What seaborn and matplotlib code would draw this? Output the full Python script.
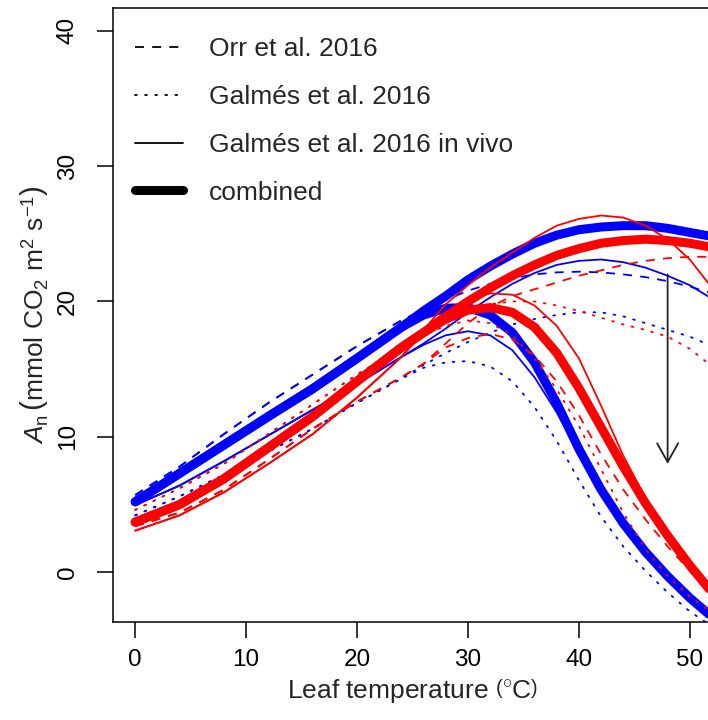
import matplotlib
matplotlib.use("Agg")
import matplotlib.pyplot as plt
from matplotlib.lines import Line2D
import seaborn as sns
import pandas as pd

sns.set_style("ticks")
plt.rcParams['font.family'] = ['Liberation Sans', 'DejaVu Sans']
plt.rcParams['mathtext.fontset'] = 'custom'
plt.rcParams['mathtext.rm'] = 'Liberation Sans'
plt.rcParams['mathtext.it'] = 'Liberation Sans:italic'
plt.rcParams['mathtext.sf'] = 'Liberation Sans'

# ---------------- data ----------------
temp = [0, 4, 8, 12, 16, 20, 24, 26, 28, 30, 32, 34, 36, 38, 40, 42, 44, 46, 48, 50, 52]

# blue
blue_orr_hi = [5.7, 7.8, 10.2, 12.5, 14.6, 16.7, 18.6, 19.4, 20.1, 20.8, 21.3, 21.7, 22.0, 22.15, 22.2, 22.15, 22.0, 21.8, 21.5, 21.1, 20.6]
blue_orr_lo = [5.7, 7.8, 10.2, 12.5, 14.6, 16.7, 18.6, 19.3, 19.7, 19.7, 19.15, 17.85, 15.7, 12.7, 9.3, 6.3, 3.8, 1.7, -0.1, -1.7, -3.1]
blue_gal_hi = [4.2, 5.6, 7.2, 8.9, 10.6, 12.5, 14.3, 15.3, 16.2, 17.0, 17.7, 18.3, 18.7, 19.0, 19.2, 19.2, 18.9, 18.4, 17.9, 17.4, 16.7]
blue_gal_lo = [4.2, 5.6, 7.2, 8.9, 10.6, 12.5, 14.3, 15.1, 15.5, 15.6, 15.2, 14.1, 12.2, 9.7, 6.8, 4.1, 1.9, 0.1, -1.5, -2.9, -4.0]
blue_viv_hi = [4.95, 6.4, 8.2, 10.1, 12.0, 13.9, 15.9, 16.9, 18.0, 19.2, 20.3, 21.3, 22.1, 22.7, 23.0, 23.1, 22.9, 22.5, 21.9, 21.2, 20.2]
blue_viv_lo = [4.95, 6.4, 8.2, 10.1, 12.0, 13.9, 15.9, 16.8, 17.5, 17.8, 17.5, 16.4, 14.4, 11.8, 8.9, 6.1, 3.7, 1.7, -0.1, -1.7, -3.1]
blue_com_hi = [5.2, 7.3, 9.4, 11.5, 13.55, 15.8, 18.1, 19.3, 20.4, 21.6, 22.6, 23.5, 24.3, 24.9, 25.3, 25.5, 25.6, 25.6, 25.4, 25.1, 24.8]
blue_com_lo = [5.2, 7.3, 9.4, 11.5, 13.55, 15.8, 18.1, 19.0, 19.5, 19.55, 19.0, 17.7, 15.5, 12.5, 9.1, 6.1, 3.6, 1.5, -0.3, -1.9, -3.3]

# red
red_orr_hi = [3.4, 4.4, 6.1, 8.3, 10.6, 12.6, 14.4, 15.4, 16.9, 18.4, 19.6, 20.4, 20.9, 21.4, 21.9, 22.3, 22.7, 23.0, 23.2, 23.3, 23.3]
red_orr_lo = [3.4, 4.4, 6.1, 8.3, 10.6, 12.6, 14.4, 15.4, 16.6, 17.3, 17.6, 17.2, 16.0, 14.1, 11.6, 8.7, 6.1, 3.9, 1.9, 0.1, -1.6]
red_gal_hi = [4.6, 6.2, 8.0, 10.2, 12.4, 14.6, 16.6, 17.5, 18.4, 19.2, 19.8, 20.0, 20.0, 19.7, 19.3, 18.8, 18.3, 17.9, 17.4, 16.5, 15.2]
red_gal_lo = [4.6, 6.2, 8.0, 10.2, 12.4, 14.6, 16.6, 17.5, 18.2, 18.6, 18.4, 17.5, 15.8, 13.5, 10.8, 7.6, 4.4, 1.7, -0.3, -1.8, -3.0]
red_viv_hi = [3.07, 4.2, 5.9, 8.0, 10.2, 12.9, 15.9, 17.9, 19.8, 21.2, 22.5, 23.6, 24.7, 25.6, 26.1, 26.35, 26.2, 25.6, 24.6, 23.1, 21.0]
red_viv_lo = [3.07, 4.2, 5.9, 8.0, 10.2, 12.9, 15.9, 17.7, 19.2, 20.1, 20.6, 20.5, 19.7, 18.2, 15.8, 12.3, 8.6, 5.5, 3.0, 0.8, -1.4]
red_com_hi = [3.7, 5.0, 6.9, 9.2, 11.5, 14.1, 16.6, 17.7, 18.9, 20.0, 21.0, 21.9, 22.7, 23.4, 23.9, 24.3, 24.5, 24.6, 24.5, 24.3, 24.0]
red_com_lo = [3.7, 5.0, 6.9, 9.2, 11.5, 14.1, 16.6, 17.7, 18.7, 19.35, 19.55, 19.2, 18.1, 16.2, 13.6, 10.7, 7.8, 5.1, 2.7, 0.5, -1.5]

legend_labels = ["Orr et al. 2016", "Galmés et al. 2016", "Galmés et al. 2016 in vivo", "combined"]
x_ticks = [0, 10, 20, 30, 40, 50]
y_ticks = [0, 10, 20, 30, 40]
arrow_x = 48
arrow_from = 22
arrow_to = 8

# ---------------- styles ----------------
BLUE = "#0000FF"
RED = "#FF0000"
THIN = 1.3
THICK = 6.5
DASH = (0, (5.0, 4.5))
DOT = (0, (1.0, 4.6))
FS_TICK = 17.5
FS_TEXT = 19

fig = plt.figure(figsize=(7.08, 7.2), dpi=100)
ax = fig.add_axes([113 / 708, (720 - 622) / 720, (712 - 113) / 708, (622 - 8) / 720])

groups = [
    (BLUE, [(blue_orr_hi, DASH, THIN), (blue_orr_lo, DASH, THIN),
            (blue_gal_hi, DOT, THIN), (blue_gal_lo, DOT, THIN),
            (blue_viv_hi, '-', THIN), (blue_viv_lo, '-', THIN),
            (blue_com_hi, '-', THICK), (blue_com_lo, '-', THICK)]),
    (RED, [(red_orr_hi, DASH, THIN), (red_orr_lo, DASH, THIN),
           (red_gal_hi, DOT, THIN), (red_gal_lo, DOT, THIN),
           (red_viv_hi, '-', THIN), (red_viv_lo, '-', THIN),
           (red_com_hi, '-', THICK), (red_com_lo, '-', THICK)]),
]

for color, curves in groups:
    for vals, ls, lw in curves:
        df = pd.DataFrame({"T": temp, "A": vals})
        sns.lineplot(data=df, x="T", y="A", ax=ax, color=color, linestyle=ls,
                     lw=lw, sort=False, legend=False, solid_capstyle='round',
                     solid_joinstyle='round', dash_joinstyle='round',
                     dash_capstyle='round' if ls == DOT else 'butt')

ax.annotate('', xy=(arrow_x, arrow_to), xytext=(arrow_x, arrow_from),
            arrowprops=dict(arrowstyle='->, head_length=0.75, head_width=0.42',
                            mutation_scale=18, lw=1.3, color='#222222',
                            shrinkA=0, shrinkB=0))

ax.set_xlim(-2, 52)
ax.set_ylim(-3.68, 41.68)
ax.set_xticks(x_ticks)
ax.set_yticks(y_ticks)
ax.tick_params(axis='both', length=11.5, width=1.1, labelsize=FS_TICK, colors='black', direction='out')
ax.tick_params(axis='y', pad=13)
ax.tick_params(axis='x', pad=8)
for lbl in ax.get_yticklabels():
    lbl.set_rotation(90)
    lbl.set_va('center')
for sp in ax.spines.values():
    sp.set_linewidth(1.1)
    sp.set_color('black')

ax.set_xlabel(r"Leaf temperature $\left(^{\circ}\mathrm{C}\right)$", fontsize=FS_TEXT, labelpad=4)
ax.set_ylabel(r"$\mathit{A}_\mathrm{n}\,\left(\mathrm{mmol\ CO_2\ m^2\ s^{-1}}\right)$", fontsize=FS_TEXT, labelpad=5)

handles = [
    Line2D([], [], color='black', lw=THIN, linestyle=DASH),
    Line2D([], [], color='black', lw=THIN, linestyle=DOT, dash_capstyle='round'),
    Line2D([], [], color='black', lw=THIN, linestyle='-'),
    Line2D([], [], color='black', lw=THICK, linestyle='-', solid_capstyle='round'),
]
ax.legend(handles=handles, labels=legend_labels, loc='upper left', frameon=False,
          bbox_to_anchor=(0.037, 0.952), borderaxespad=0.0, borderpad=0.0,
          fontsize=FS_TEXT, handlelength=1.8, handletextpad=1.0, labelspacing=0.9)

fig.savefig("out.png", dpi=100)
